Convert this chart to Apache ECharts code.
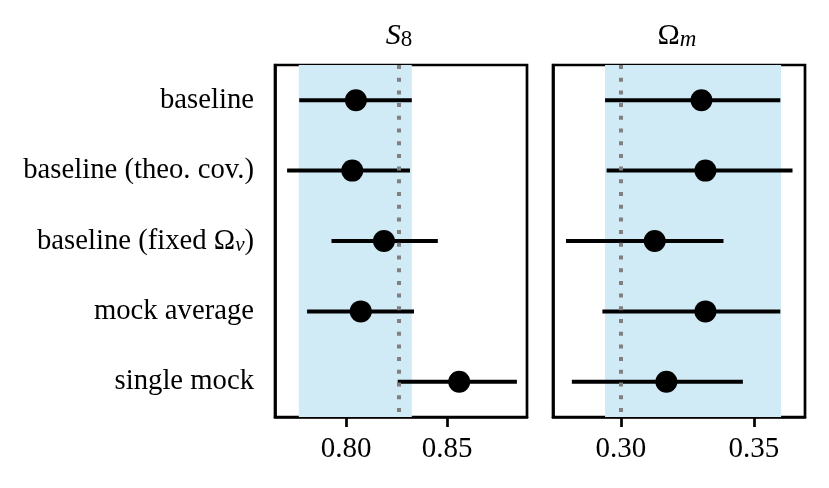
<!DOCTYPE html>
<html>
<head>
<meta charset="utf-8">
<script src="https://cdn.jsdelivr.net/npm/echarts@6/dist/echarts.min.js"></script>
<style>
html,body{margin:0;padding:0;background:#fff;}
#chart{width:829px;height:488px;}
</style>
</head>
<body>
<div id="chart"></div>
<script>
// ---- data ----
const categories = ['baseline', 'baseline (theo. cov.)', 'baseline (fixed Ω_ν)', 'mock average', 'single mock'];
const s8Mean = [0.8048, 0.8030, 0.8187, 0.8072, 0.8560];
const s8Lo   = [0.7767, 0.7707, 0.7927, 0.7806, 0.8255];
const s8Hi   = [0.8325, 0.8316, 0.8454, 0.8336, 0.8846];
const omMean = [0.3303, 0.3318, 0.3127, 0.3318, 0.3171];
const omLo   = [0.2940, 0.2946, 0.2793, 0.2930, 0.2815];
const omHi   = [0.3600, 0.3646, 0.3386, 0.3600, 0.3459];
const s8Band = [0.7765, 0.8325];
const omBand = [0.2940, 0.3603];
const s8Ref = 0.8258;
const omRef = 0.30;
const s8Ticks = [0.80, 0.85];
const omTicks = [0.30, 0.35];
const s8Range = [0.7647, 0.8896];
const omRange = [0.2744, 0.3693];

const FONT = 'Liberation Serif';
const chart = echarts.init(document.getElementById('chart'), null, {renderer: 'canvas'});

function errRender(params, api) {
  const y = api.value(2);
  const p1 = api.coord([api.value(0), y]);
  const p2 = api.coord([api.value(1), y]);
  return {type: 'line', shape: {x1: p1[0], y1: p1[1], x2: p2[0], y2: p2[1]},
          style: {stroke: '#000', lineWidth: 4, lineCap: 'butt'}};
}

function xAxisCfg(idx, range, ticks) {
  return {
    type: 'value', gridIndex: idx, min: range[0], max: range[1],
    splitLine: {show: false},
    axisLine: {show: true, onZero: false, lineStyle: {color: '#000', width: 2.7}},
    axisTick: {show: true, customValues: ticks, length: 10, lineStyle: {color: '#000', width: 2.7}},
    axisLabel: {show: true, customValues: ticks, formatter: v => v.toFixed(2),
      fontFamily: FONT, fontSize: 29, color: '#000', margin: 18}
  };
}
function yAxisCfg(idx, showLabels) {
  return {
    type: 'category', gridIndex: idx, data: categories, inverse: true,
    axisLine: {show: true, lineStyle: {color: '#000', width: 2.7}},
    axisTick: {show: false},
    splitLine: {show: false},
    axisLabel: {show: showLabels, margin: 21, fontFamily: FONT, fontSize: 28.7, color: '#000',
      formatter: function (v) {
        const k = v.indexOf('_');
        if (k < 0) return '{n|' + v + '}';
        return '{n|' + v.slice(0, k) + '}{s|' + v.charAt(k + 1) + '}{n|' + v.slice(k + 2) + '}';
      },
      rich: {
        n: {fontFamily: FONT, fontSize: 28.7, color: '#000', lineHeight: 29, verticalAlign: 'bottom'},
        s: {fontFamily: FONT, fontSize: 21, fontStyle: 'italic', color: '#000', lineHeight: 14, verticalAlign: 'bottom'}
      }
    }
  };
}
function panelSeries(idx, mean, lo, hi, band, ref) {
  return [
    {type: 'scatter', xAxisIndex: idx, yAxisIndex: idx, data: [], z: 1, silent: true,
     markArea: {silent: true, itemStyle: {color: '#d0eaf6'}, data: [[{xAxis: band[0]}, {xAxis: band[1]}]]}},
    {type: 'scatter', xAxisIndex: idx, yAxisIndex: idx, data: [], z: 2, silent: true,
     markLine: {silent: true, precision: 4, symbol: ['none', 'none'], label: {show: false},
       lineStyle: {color: '#808080', width: 4, type: [4, 8.7], cap: 'butt'}, data: [{xAxis: ref}]}},
    {type: 'custom', xAxisIndex: idx, yAxisIndex: idx, z: 3, renderItem: errRender,
     encode: {x: [0, 1], y: 2}, data: lo.map((l, i) => [l, hi[i], i])},
    {type: 'scatter', xAxisIndex: idx, yAxisIndex: idx, z: 4, symbolSize: 22,
     itemStyle: {color: '#000', opacity: 1}, data: mean.map((m, i) => [m, i])}
  ];
}

function titleCfg(x, text, italicMain) {
  return {
    text: text, left: x, top: 21, padding: 0, textAlign: 'center',
    textStyle: {
      fontFamily: FONT, fontSize: 30, fontWeight: 'normal', color: '#000',
      rich: {
        a: {fontFamily: FONT, fontSize: 30, fontStyle: italicMain ? 'italic' : 'normal', color: '#000', lineHeight: 30, verticalAlign: 'bottom'},
        b: {fontFamily: FONT, fontSize: 23, fontStyle: italicMain ? 'normal' : 'italic', color: '#000', lineHeight: 16, verticalAlign: 'bottom'}
      }
    }
  };
}

const option = {
  animation: false,
  backgroundColor: '#fff',
  title: [titleCfg(399, '{a|S}{b|8}', true), titleCfg(677, '{a|Ω}{b|m}', false)],
  grid: [
    {left: 275, top: 65, width: 252, height: 352, show: true, borderColor: '#000', borderWidth: 2.7, backgroundColor: 'transparent'},
    {left: 553, top: 65, width: 252, height: 352, show: true, borderColor: '#000', borderWidth: 2.7, backgroundColor: 'transparent'}
  ],
  xAxis: [xAxisCfg(0, s8Range, s8Ticks), xAxisCfg(1, omRange, omTicks)],
  yAxis: [yAxisCfg(0, true), yAxisCfg(1, false)],
  series: [].concat(
    panelSeries(0, s8Mean, s8Lo, s8Hi, s8Band, s8Ref),
    panelSeries(1, omMean, omLo, omHi, omBand, omRef)
  )
};
chart.setOption(option);
</script>
</body>
</html>
